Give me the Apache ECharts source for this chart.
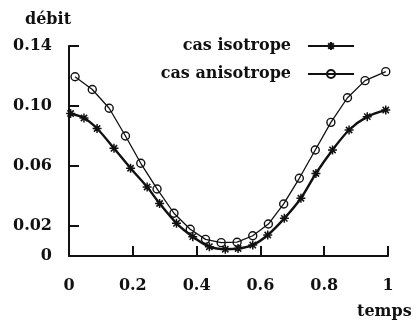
<!DOCTYPE html>
<html>
<head>
<meta charset="utf-8">
<script src="https://cdn.jsdelivr.net/npm/echarts@6/dist/echarts.min.js"></script>
<style>
  html, body { margin: 0; padding: 0; background: #fff; }
  #chart { width: 417px; height: 326px; }
</style>
</head>
<body>
<div id="chart"></div>
<script>
// values
const isoTime = [0.005, 0.047, 0.088, 0.141, 0.193, 0.245, 0.284, 0.337, 0.388, 0.44, 0.49,
  0.53, 0.576, 0.623, 0.675, 0.727, 0.774, 0.826, 0.878, 0.935, 0.993];
const isoFlow = [0.095, 0.092, 0.085, 0.0718, 0.0585, 0.046, 0.035, 0.0218, 0.0129, 0.0062, 0.0045,
  0.005, 0.0073, 0.014, 0.0251, 0.0385, 0.055, 0.0707, 0.084, 0.0929, 0.0973];

const anisoTime = [0.019, 0.073, 0.126, 0.177, 0.225, 0.276, 0.329, 0.38, 0.428, 0.477,
  0.527, 0.576, 0.625, 0.673, 0.722, 0.772, 0.821, 0.873, 0.928, 0.993];
const anisoFlow = [0.1195, 0.111, 0.0985, 0.08, 0.0618, 0.0447, 0.0285, 0.0178, 0.0111, 0.0089,
  0.0092, 0.0135, 0.0213, 0.0347, 0.0518, 0.0707, 0.0891, 0.1055, 0.1169, 0.1229];

const yTicks = [0, 0.02, 0.06, 0.10, 0.14];
const yTickLabels = ['0', '0.02', '0.06', '0.10', '0.14'];
const xTickLabels = ['0', '0.2', '0.4', '0.6', '0.8', '1'];

const font = 'DejaVu Serif';
const ink = '#111';
const star = 'path://M0,5L10,5M5,0L5,10M1.5,1.5L8.5,8.5M8.5,1.5L1.5,8.5';

const chart = echarts.init(document.getElementById('chart'), null, { renderer: 'canvas' });

chart.setOption({
  animation: false,
  backgroundColor: '#fff',
  textStyle: { fontFamily: font, color: ink },
  grid: { left: 69, right: 29, top: 46, bottom: 70 },
  legend: {
    orient: 'vertical',
    right: 57,
    top: 33,
    align: 'right',
    itemWidth: 46,
    itemHeight: 10,
    itemGap: 12,
    textStyle: { fontFamily: font, fontSize: 16, fontWeight: 'bold', color: ink, padding: [0, 12, 0, 0] },
    data: ['cas isotrope', 'cas anisotrope']
  },
  graphic: [
    { type: 'text', left: 25, top: 12,
      style: { text: 'débit', font: 'bold 16px "' + font + '"', fill: ink } },
    { type: 'text', left: 357, top: 304,
      style: { text: 'temps', font: 'bold 16px "' + font + '"', fill: ink } }
  ],
  xAxis: {
    type: 'value',
    min: 0, max: 1, interval: 0.2,
    axisLine: { lineStyle: { color: ink, width: 2 } },
    axisTick: { inside: true, length: 10, lineStyle: { color: ink, width: 2 } },
    axisLabel: {
      margin: 22, fontSize: 16, fontWeight: 'bold', fontFamily: font, color: ink,
      formatter: (v) => xTickLabels[Math.round(v / 0.2)]
    },
    splitLine: { show: false }
  },
  yAxis: {
    type: 'value',
    min: 0, max: 0.14,
    axisLine: { show: true, lineStyle: { color: ink, width: 2 } },
    axisTick: { show: true, inside: true, length: 10, customValues: yTicks,
      lineStyle: { color: ink, width: 2 } },
    axisLabel: {
      margin: 17, fontSize: 16, fontWeight: 'bold', fontFamily: font, color: ink,
      customValues: yTicks,
      formatter: (v) => yTickLabels[yTicks.findIndex((t) => Math.abs(t - v) < 1e-6)]
    },
    splitLine: { show: false }
  },
  series: [
    {
      name: 'cas isotrope',
      type: 'line',
      smooth: 0.3,
      data: isoTime.map((t, i) => [t, isoFlow[i]]),
      symbol: star,
      symbolSize: 9,
      showAllSymbol: true,
      lineStyle: { color: ink, width: 2.4 },
      itemStyle: { color: 'none', borderColor: ink, borderWidth: 1.5 },
      z: 3
    },
    {
      name: 'cas anisotrope',
      type: 'line',
      data: anisoTime.map((t, i) => [t, anisoFlow[i]]),
      symbol: 'circle',
      symbolSize: 8,
      showAllSymbol: true,
      lineStyle: { color: ink, width: 1.3 },
      itemStyle: { color: 'rgba(0,0,0,0)', borderColor: ink, borderWidth: 1.4 },
      z: 2
    }
  ]
});
</script>
</body>
</html>
